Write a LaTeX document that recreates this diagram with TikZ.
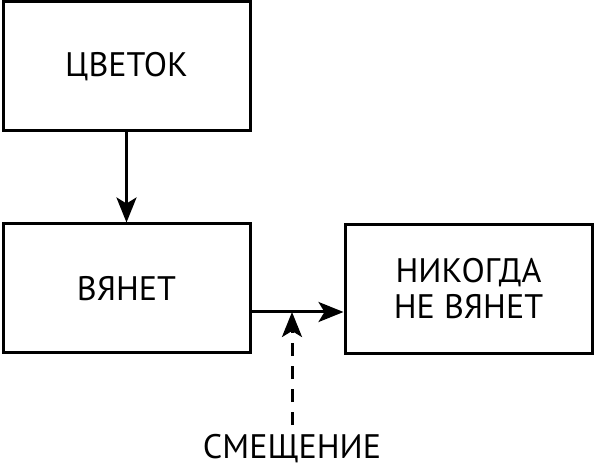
\documentclass[tikz,border=0pt]{standalone}
\usepackage{fontspec}
\setmainfont{PT Sans}
\usetikzlibrary{arrows.meta}
\tikzset{
    stagebox/.style={draw, line width=3pt, minimum width=247pt, minimum height=129pt,
        align=center, font=\fontsize{34}{36}\selectfont},
    flow/.style={line width=3pt, -{Stealth[length=25pt, width=20pt, inset=6pt]}}
}

\begin{document}
\begin{tikzpicture}[x=1pt, y=-1pt]

    \useasboundingbox (0, 0) rectangle (595, 470);

    \node[stagebox] (flower) at (126.5, 66.5) {ЦВЕТОК};
    \node[stagebox] (fades) at (126.5, 288.5) {ВЯНЕТ};
    \node[stagebox] (never) at (468.5, 289) {НИКОГДА\\НЕ ВЯНЕТ};

    \node[font=\fontsize{34}{36}\selectfont] (shift) at (292, 449) {СМЕЩЕНИЕ};
    \coordinate (join) at (292, 312);

    \draw[flow] (flower.south) -- (fades.north);
    \draw[flow] (fades.east |- join) -- (never.west |- join);
    \draw[flow, dash pattern=on 13pt off 10pt, shorten <=6pt] (shift.north) -- (join);

\end{tikzpicture}
\end{document}
